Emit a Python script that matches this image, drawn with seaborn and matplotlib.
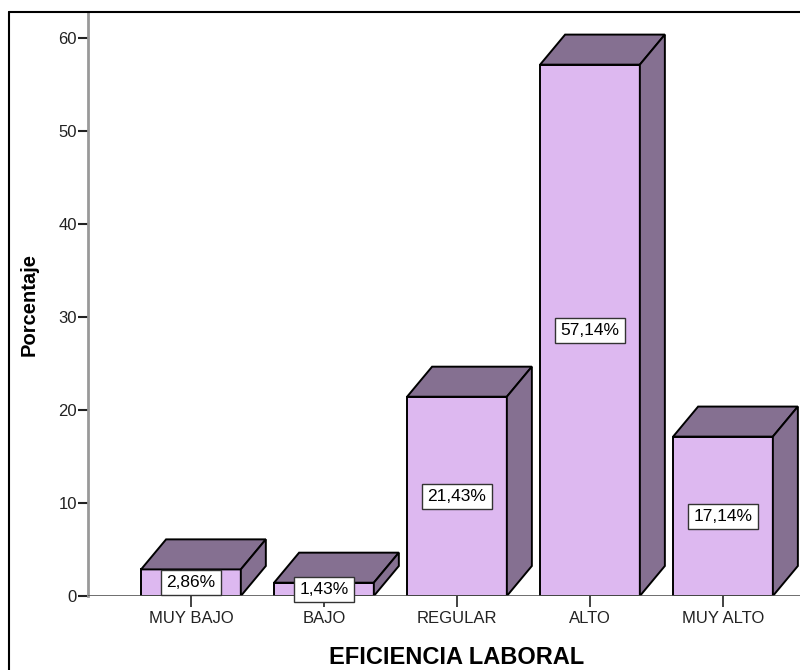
import matplotlib
matplotlib.use("Agg")
import matplotlib.pyplot as plt
import seaborn as sns
import pandas as pd
from matplotlib.patches import Polygon
from matplotlib.lines import Line2D

categories = ["MUY BAJO", "BAJO", "REGULAR", "ALTO", "MUY ALTO"]
values = [2.86, 1.43, 21.43, 57.14, 17.14]
y_ticks = [0, 10, 20, 30, 40, 50, 60]

front_color = "#DDB8F0"
dark_color = "#857091"

sns.set_theme(style="white")
plt.rcParams["font.family"] = ["Liberation Sans", "DejaVu Sans"]

fig = plt.figure(figsize=(8, 6.7), dpi=100)
ax = fig.add_axes([88 / 800, 74 / 670, 1 - 88 / 800, (596 - 12) / 670])

df = pd.DataFrame({"cat": categories, "val": values})
sns.barplot(data=df, x="cat", y="val", color=front_color, saturation=1,
            edgecolor="black", linewidth=1.4, width=0.75, ax=ax, zorder=3)

dx, dy = 0.188, 3.23
for p, v in zip(ax.patches, values):
    x0 = p.get_x()
    x1 = x0 + p.get_width()
    h = p.get_height()
    top = Polygon([(x0, h), (x1, h), (x1 + dx, h + dy), (x0 + dx, h + dy)],
                  closed=True, fc=dark_color, ec="black", lw=1.4, zorder=3)
    side = Polygon([(x1, 0), (x1 + dx, dy), (x1 + dx, h + dy), (x1, h)],
                   closed=True, fc=dark_color, ec="black", lw=1.4, zorder=3)
    ax.add_patch(top)
    ax.add_patch(side)
    ax.text(x0 + p.get_width() / 2, h / 2, f"{v:.2f}%".replace(".", ","),
            ha="center", va="center", fontsize=12.5, color="black", zorder=5,
            bbox=dict(boxstyle="square,pad=0.3", fc="white", ec="#333333", lw=1))

ax.set_xlim(-0.774, 4.579)
ax.set_ylim(0, 62.8)
ax.set_yticks(y_ticks)
ax.set_yticklabels([str(t) for t in y_ticks])

for s in ["top", "right", "bottom"]:
    ax.spines[s].set_visible(False)
ax.spines["left"].set_color("#999999")
ax.spines["left"].set_linewidth(2)
ax.axhline(0, color="#555555", lw=1.2, zorder=4)

ax.tick_params(axis="y", direction="out", length=7, width=1.5, color="#222222",
               labelsize=12, labelcolor="#222222", pad=1, left=True)
ax.tick_params(axis="x", direction="out", length=8, width=1.2, color="#222222",
               labelsize=12, labelcolor="#222222", pad=3, bottom=True)

ax.set_xlabel("EFICIENCIA LABORAL", fontsize=17, fontweight="bold", color="black")
ax.xaxis.set_label_coords((457 - 88) / 712, -0.085)
ax.set_ylabel("Porcentaje", fontsize=14.5, fontweight="bold", color="black")
ax.yaxis.set_label_coords(-0.07, 0.5)

fig.add_artist(Line2D([9 / 800, 1.0], [1 - 12 / 670, 1 - 12 / 670],
                      transform=fig.transFigure, color="black", lw=1.5))
fig.add_artist(Line2D([9 / 800, 9 / 800], [0, 1 - 12 / 670],
                      transform=fig.transFigure, color="black", lw=1.5))

fig.savefig("out.png", dpi=100, facecolor="white")
